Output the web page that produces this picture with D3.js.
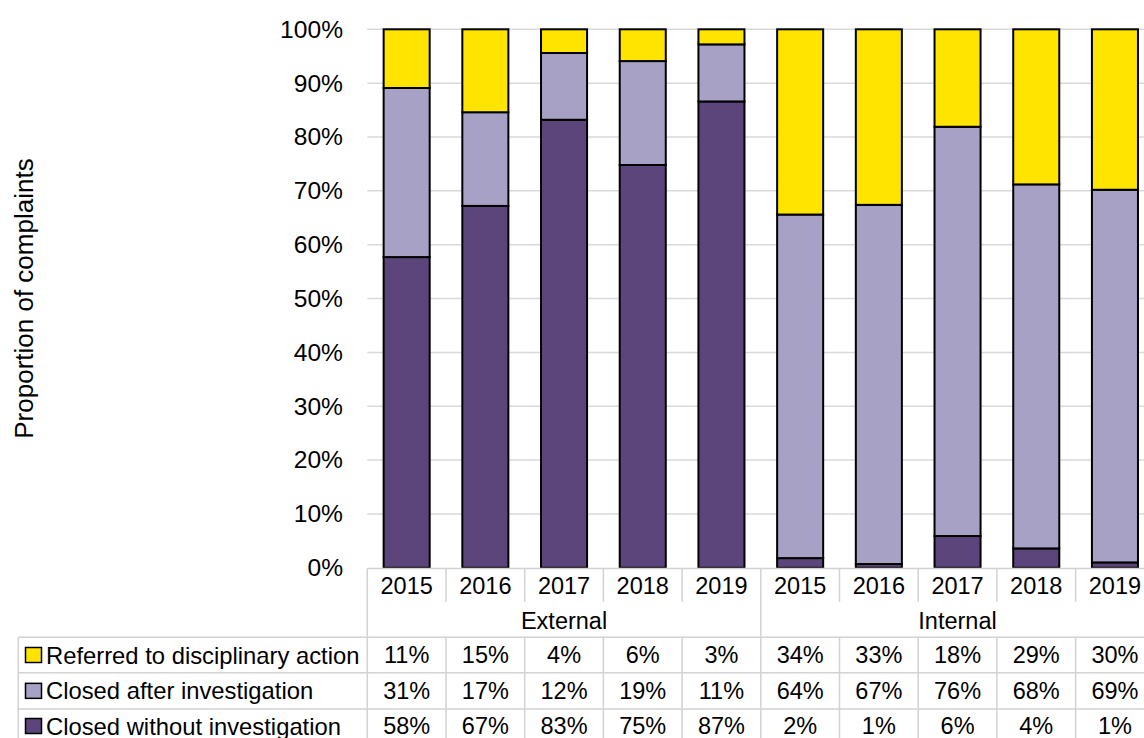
<!DOCTYPE html>
<html>
<head>
<meta charset="utf-8">
<script src="https://cdn.jsdelivr.net/npm/d3@7"></script>
<style>
  html, body { margin: 0; padding: 0; background: #fff; overflow: hidden; }
  svg { display: block; font-family: "Liberation Sans", Arial, sans-serif; }
</style>
</head>
<body>
<svg id="chart" width="1144" height="738"></svg>
<script>
// ---- data ----
const groups = ["External", "Internal"];
const years = ["2015", "2016", "2017", "2018", "2019"];
const seriesNames = ["Referred to disciplinary action", "Closed after investigation", "Closed without investigation"];
// values in percent, order: External 2015..2019, Internal 2015..2019
const referred = [10.9, 15.4, 4.4, 5.9, 2.8, 34.4, 32.6, 18.1, 28.8, 29.8];
const closedAfter = [31.4, 17.4, 12.4, 19.3, 10.6, 63.8, 66.7, 76.0, 67.6, 69.2];
const closedWithout = [57.7, 67.2, 83.2, 74.8, 86.6, 1.8, 0.7, 5.9, 3.6, 1.0];
const yTicks = [0, 10, 20, 30, 40, 50, 60, 70, 80, 90, 100];
const colors = { referred: "#FFE400", after: "#A6A1C5", without: "#5C457B" };

// ---- layout ----
const svg = d3.select("#chart");
const plotLeft = 367.3, colW = 78.7;
const plotTop = 29.3, plotBottom = 567.8;
const categories = [];
groups.forEach(g => years.forEach(yr => categories.push(g + "|" + yr)));

const x = d3.scaleBand().domain(categories).range([plotLeft, plotLeft + colW * categories.length]).padding(0);
const y = d3.scaleLinear().domain([0, 100]).range([plotBottom, plotTop]);
const fmt = d => Math.round(d) + "%";

// gridlines
svg.append("g").selectAll("line").data(yTicks.filter(t => t > 0)).join("line")
  .attr("x1", plotLeft).attr("x2", x.range()[1])
  .attr("y1", d => y(d)).attr("y2", d => y(d))
  .attr("stroke", "#d9d9d9").attr("stroke-width", 1.5);

// y axis labels
const yAxis = d3.axisLeft(y).tickValues(yTicks).tickFormat(d => d + "%").tickSize(0).tickPadding(0);
const yg = svg.append("g").attr("transform", `translate(343,0)`).call(yAxis);
yg.select(".domain").remove();
yg.selectAll("text").attr("font-size", 24.6).attr("fill", "#000").attr("font-family", "'Liberation Sans', Arial, sans-serif");

// y title
svg.append("text")
  .attr("transform", `translate(24,${(plotTop + plotBottom) / 2}) rotate(-90)`)
  .attr("text-anchor", "middle").attr("dy", "0.35em")
  .attr("font-size", 26).attr("fill", "#000")
  .text("Proportion of complaints");

// stacked bars
const rows = categories.map((c, i) => ({ cat: c, without: closedWithout[i], after: closedAfter[i], referred: referred[i] }));
const stack = d3.stack().keys(["without", "after", "referred"]);
const stacked = stack(rows);
const barW = colW * 0.585;
svg.append("g").selectAll("g").data(stacked).join("g")
  .attr("fill", d => colors[d.key])
  .selectAll("rect").data(d => d).join("rect")
  .attr("x", d => x(d.data.cat) + (colW - barW) / 2)
  .attr("width", barW)
  .attr("y", d => y(d[1]))
  .attr("height", d => y(d[0]) - y(d[1]))
  .attr("stroke", "#000").attr("stroke-width", 2);

// ---- table ----
const tTop = 568.5, yearBottom = 601.7, groupBottom = 637.3;
const rowBounds = [637.3, 672.7, 709, 743];
const legendLeft = 18.3;
const xEnd = x.range()[1];
const lineColor = "#d2d2d2";
const tg = svg.append("g");
const hline = (x1, x2, yy) => tg.append("line").attr("x1", x1).attr("x2", x2).attr("y1", yy).attr("y2", yy).attr("stroke", lineColor).attr("stroke-width", 1.5);
const vline = (xx, y1, y2) => tg.append("line").attr("x1", xx).attr("x2", xx).attr("y1", y1).attr("y2", y2).attr("stroke", lineColor).attr("stroke-width", 1.5);

hline(plotLeft, xEnd, tTop);
rowBounds.slice(0, 3).forEach(rb => hline(legendLeft, xEnd, rb));
vline(legendLeft, groupBottom, 738);
categories.forEach((c, i) => {
  const xx = x(c);
  if (i % years.length === 0) vline(xx, tTop, 738);
  else { vline(xx, tTop, yearBottom); vline(xx, groupBottom, 738); }
});
vline(xEnd, tTop, 738);

// year labels
svg.append("g").selectAll("text").data(categories).join("text")
  .attr("x", d => x(d) + colW / 2).attr("y", (tTop + yearBottom) / 2)
  .attr("dy", "0.36em").attr("text-anchor", "middle").attr("font-size", 23.5)
  .text(d => d.split("|")[1]);

// group labels
svg.append("g").selectAll("text").data(groups).join("text")
  .attr("x", g => x(g + "|" + years[0]) + colW * years.length / 2)
  .attr("y", (yearBottom + groupBottom) / 2 + 1)
  .attr("dy", "0.36em").attr("text-anchor", "middle").attr("font-size", 23.5)
  .text(g => g);

// data rows
const tableSeries = [
  { name: seriesNames[0], vals: referred, color: colors.referred },
  { name: seriesNames[1], vals: closedAfter, color: colors.after },
  { name: seriesNames[2], vals: closedWithout, color: colors.without }
];
tableSeries.forEach((s, r) => {
  const cy = (rowBounds[r] + rowBounds[r + 1]) / 2;
  const rg = svg.append("g");
  rg.append("rect").attr("x", 25.5).attr("y", cy - 7.5).attr("width", 16).attr("height", 15)
    .attr("fill", s.color).attr("stroke", "#000").attr("stroke-width", 1.5);
  rg.append("text").attr("x", 46).attr("y", cy).attr("dy", "0.36em").attr("font-size", 23.8).text(s.name);
  rg.selectAll("text.v").data(s.vals).join("text").attr("class", "v")
    .attr("x", (d, i) => x(categories[i]) + colW / 2).attr("y", cy)
    .attr("dy", "0.36em").attr("text-anchor", "middle").attr("font-size", 23.5)
    .text(d => fmt(d));
});
</script>
</body>
</html>
